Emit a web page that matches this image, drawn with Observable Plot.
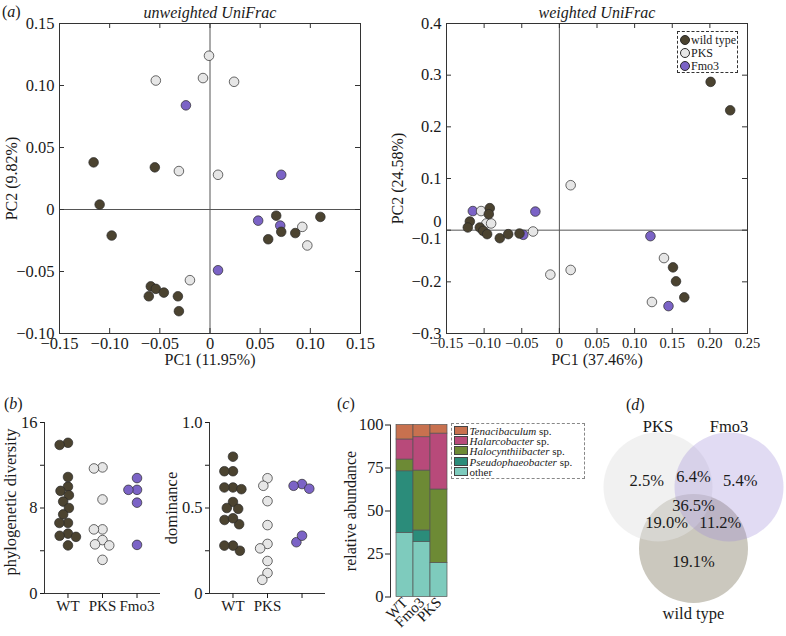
<!DOCTYPE html>
<html><head><meta charset="utf-8">
<script src="https://cdn.jsdelivr.net/npm/d3@7"></script>
<script src="https://cdn.jsdelivr.net/npm/@observablehq/plot@0.6"></script>
<style>
body{margin:0;background:#fff;}
#fig{position:relative;width:786px;height:636px;overflow:hidden;font-family:"Liberation Serif",serif;color:#1a1a1a;background:#fff;}
#fig > svg{position:absolute;}
.lab{position:absolute;font-size:16px;line-height:16px;white-space:nowrap;}
</style></head><body><div id="fig"></div><script>
// ---------- DATA ----------
const groups = ["wild type", "PKS", "Fmo3"];
const groupColors = ["#4b4330", "#e6e6e6", "#7b63c6"];

// (a) unweighted UniFrac PCoA
const uwWT_pc1 = [-0.116,-0.110,-0.098,-0.055,-0.059,-0.061,-0.054,-0.046,-0.032,-0.031,0.066,0.058,0.071,0.085,0.110];
const uwWT_pc2 = [0.038,0.004,-0.021,0.034,-0.062,-0.070,-0.064,-0.067,-0.070,-0.082,-0.005,-0.024,-0.018,-0.019,-0.006];
const uwPKS_pc1 = [-0.054,-0.001,-0.007,0.024,-0.031,0.008,-0.020,0.092,0.097];
const uwPKS_pc2 = [0.104,0.124,0.106,0.103,0.031,0.028,-0.057,-0.014,-0.029];
const uwFmo3_pc1 = [-0.024,0.071,0.048,0.070,0.008];
const uwFmo3_pc2 = [0.084,0.028,-0.009,-0.013,-0.049];
const uwXTicks = [-0.15,-0.10,-0.05,0,0.05,0.10,0.15];
const uwYTicks = [-0.10,-0.05,0,0.05,0.10,0.15];

// (a) weighted UniFrac PCoA
const wWT_pc1 = [0.201,0.227,0.151,0.155,0.166,-0.0925,-0.0938,-0.119,-0.1217,-0.1058,-0.1013,-0.096,-0.0792,-0.068,-0.053];
const wWT_pc2 = [0.287,0.232,-0.072,-0.099,-0.130,0.0426,0.031,0.0168,0.0052,0.0052,-0.0013,-0.0077,-0.0155,-0.0077,-0.0065];
const wPKS_pc1 = [-0.104,-0.097,-0.0907,-0.035,0.015,-0.012,0.015,0.139,0.123];
const wPKS_pc2 = [0.037,0.013,0.013,-0.0026,0.087,-0.086,-0.077,-0.054,-0.139];
const wFmo3_pc1 = [-0.115,-0.0319,-0.048,0.121,0.145];
const wFmo3_pc2 = [0.037,0.036,-0.009,-0.0116,-0.147];
const wXTicks = [-0.15,-0.10,-0.05,0,0.05,0.10,0.15,0.20,0.25];
const wYTicks = [0.4,0.3,0.2,0.1,0,-0.1,-0.2];
const wYTickLabels = ["0.4","0.3","0.2","0.1","0\n\u22120.1","\u22120.2","\u22120.3"];

// (b) alpha diversity
const bCategories = ["WT","PKS","Fmo3"];
const pdWT = [14.1,13.9,10.9,10.0,9.6,9.2,8.6,8.0,7.4,6.6,6.6,5.6,5.3,5.4,4.5];
const pdPKS = [11.8,11.7,8.8,6.0,6.0,5.0,4.5,4.6,3.15];
const pdFmo3 = [10.8,9.7,9.7,8.5,4.55];
const pdTicks = [0,4,8,12,16];
const pdTickLabels = ["0","","8","","16"];
const domWT = [0.80,0.715,0.715,0.62,0.61,0.62,0.535,0.50,0.495,0.43,0.405,0.44,0.25,0.28,0.28];
const domPKS = [0.674,0.63,0.54,0.40,0.29,0.264,0.19,0.12,0.08];
const domFmo3 = [0.64,0.613,0.63,0.30,0.338];
const domTicks = [0,0.25,0.5,0.75,1];
const domTickLabels = ["0","","0.5","","1.0"];
const domXLabels = ["WT","PKS",""];

// (c) relative abundance
const cSamples = ["WT","Fmo3","PKS"];
const taxa = ["Tenacibaculum","Halarcobacter","Halocynthiibacter","Pseudophaeobacter","other"];
const taxaColors = ["#c8714f","#b84a7a","#6d8a35","#2b8c7a","#7ecbbd"];
const tenacibaculum = [8.4, 7.1, 5.0];
const halarcobacter = [11.7, 19.4, 32.5];
const halocynthiibacter = [6.8, 34.8, 42.7];
const pseudophaeobacter = [35.8, 6.8, 0];
const otherTaxa = [37.3, 31.9, 19.8];
const cYTicks = [0,25,50,75,100];

// (d) Venn
const vennSets = ["PKS","Fmo3","wild type"];
const vennColors = ["#e4e4e4","#9a88d6","#a9a493"];
const vennOpacity = [0.5,0.3,0.6];
const vennRegions = ["PKS only","Fmo3 only","wild type only","PKS∩Fmo3","PKS∩wild type","Fmo3∩wild type","all"];
const vennPercents = ["2.5%","5.4%","19.1%","6.4%","19.0%","11.2%","36.5%"];

// ---------- HELPERS ----------
const fig = document.getElementById("fig");
const baseStyle = {fontFamily: '"Liberation Serif", serif', fontSize: "16px", background: "transparent", color: "#1a1a1a", overflow: "visible"};
function place(el, left, top) { el.style.position = "absolute"; el.style.left = left + "px"; el.style.top = top + "px"; fig.appendChild(el); }
function label(html, left, top) { const d = document.createElement("div"); d.className = "lab"; d.innerHTML = html; d.style.left = left + "px"; d.style.top = top + "px"; fig.appendChild(d); }
const fmt2 = d => d === 0 ? "0" : d3.format(".2f")(d);
const centred = {textAnchor: "middle", lineAnchor: "middle"};

// ---------- (a) ----------
function pcoa({left, width, mL, mR, xDomain, yDomain, xTicks, yTicks, yFmt, xTickFont, series, title, xLabel, yLabel, yLabelDx}) {
  const H = 372, mT = 23, mB = 39;
  const frameW = width - mL - mR, frameH = H - mT - mB;
  const pts = [];
  series.forEach(([g, xs, ys]) => xs.forEach((x, i) => pts.push({group: g, x, y: ys[i]})));
  const svg = Plot.plot({
    width, height: H, marginTop: mT, marginBottom: mB, marginLeft: mL, marginRight: mR,
    style: baseStyle,
    x: {domain: xDomain}, y: {domain: yDomain},
    color: {domain: groups, range: groupColors},
    marks: [
      Plot.ruleX([0], {stroke: "#555"}),
      Plot.ruleY([0], {stroke: "#555"}),
      Plot.frame({stroke: "#333"}),
      Plot.ruleX(xTicks, {stroke: "#333", insetTop: frameH - 5}),
      Plot.ruleX(xTicks, {stroke: "#333", insetBottom: frameH - 5}),
      Plot.ruleY(yTicks, {stroke: "#333", insetRight: frameW - 5}),
      Plot.ruleY(yTicks, {stroke: "#333", insetLeft: frameW - 5}),
      Plot.axisX(xTicks, {tickSize: 0, tickPadding: 4, tickFormat: fmt2, label: null, fontSize: xTickFont}),
      Plot.axisY(yTicks, {tickSize: 0, tickPadding: 5, tickFormat: yFmt, label: null, fontSize: 16.5}),
      Plot.dot(pts, {x: "x", y: "y", fill: "group", r: 4.8, stroke: "#2a2a2a", strokeWidth: 0.7}),
      Plot.text([xLabel], {frameAnchor: "bottom", dy: 26, ...centred}),
      Plot.text([yLabel], {frameAnchor: "left", rotate: -90, dx: yLabelDx, ...centred}),
      Plot.text([title], {frameAnchor: "top", dy: -11, fontStyle: "italic", ...centred})
    ]
  });
  place(svg, left, 0);
}
pcoa({left: 0, width: 393, mL: 59, mR: 33, xDomain: [-0.15, 0.15], yDomain: [-0.10, 0.15],
  xTicks: uwXTicks, yTicks: uwYTicks, yFmt: fmt2, xTickFont: 16.5,
  series: [["Fmo3", uwFmo3_pc1, uwFmo3_pc2], ["PKS", uwPKS_pc1, uwPKS_pc2], ["wild type", uwWT_pc1, uwWT_pc2]],
  title: "unweighted UniFrac", xLabel: "PC1 (11.95%)", yLabel: "PC2 (9.82%)", yLabelDx: -48});
const wMap = new Map(wYTicks.map((t, i) => [t, wYTickLabels[i]]));
pcoa({left: 380, width: 406, mL: 66, mR: 39, xDomain: [-0.15, 0.25], yDomain: [-0.2, 0.4],
  xTicks: wXTicks, yTicks: wYTicks, yFmt: d => wMap.get(d), xTickFont: 14.5,
  series: [["Fmo3", wFmo3_pc1, wFmo3_pc2], ["PKS", wPKS_pc1, wPKS_pc2], ["wild type", wWT_pc1, wWT_pc2]],
  title: "weighted UniFrac", xLabel: "PC1 (37.46%)", yLabel: "PC2 (24.58%)", yLabelDx: -49});

// legend (a)
{
  const box = document.createElement("div");
  box.style.cssText = "width:59px;height:40px;border:1px dashed #333;font-size:12px;";
  groups.forEach((g, i) => {
    const row = document.createElement("div");
    row.style.cssText = `position:absolute;left:2px;top:${2 + i * 12.8}px;height:12px;line-height:12px;white-space:nowrap;`;
    row.innerHTML = `<span style="display:inline-block;width:8px;height:8px;border-radius:50%;background:${groupColors[i]};border:0.7px solid #2a2a2a;vertical-align:-1px;margin-right:1px"></span>${g}`;
    box.appendChild(row);
  });
  place(box, 677, 31);
}

// ---------- (b) ----------
function swarm(values, yPx, d) {
  const order = d3.range(values.length).sort((a, b) => values[b] - values[a]);
  const placed = [], out = new Array(values.length);
  for (const i of order) {
    const y = yPx(values[i]);
    const cands = [0];
    for (const p of placed) {
      const dy = Math.abs(p.y - y);
      if (dy < d) { const dx = Math.sqrt(d * d - dy * dy); cands.push(p.x - dx, p.x + dx); }
    }
    cands.sort((a, b) => Math.abs(a) - Math.abs(b));
    for (const c of cands) {
      if (placed.every(p => (p.x - c) ** 2 + (p.y - y) ** 2 >= d * d - 1e-6)) { out[i] = c; placed.push({x: c, y}); break; }
    }
  }
  return out;
}
function swarmPlot({left, yDomain, yTicks, yTickLabels, xLabels, ylabel, ylabelDx, ylabelDy, values}) {
  const W = 170, H = 236, mT = 22, mB = 43, mL = 44, mR = 10;
  const frameH = H - mT - mB, frameW = W - mL - mR;
  const xDomain = [-0.68, 2.68];
  const step = frameW / (xDomain[1] - xDomain[0]);
  const yPx = d3.scaleLinear().domain(yDomain).range([frameH, 0]);
  const pts = [];
  values.forEach((vals, gi) => {
    const offs = swarm(vals, yPx, 8.6);
    vals.forEach((v, i) => pts.push({group: groups[gi], x: gi + offs[i] / step, y: v}));
  });
  const labMap = new Map(yTicks.map((t, i) => [t, yTickLabels[i]]));
  const svg = Plot.plot({
    width: W, height: H, marginTop: mT, marginBottom: mB, marginLeft: mL, marginRight: mR,
    style: baseStyle,
    x: {domain: xDomain}, y: {domain: yDomain},
    color: {domain: groups, range: groupColors},
    marks: [
      Plot.ruleX([xDomain[0]], {stroke: "#333"}),
      Plot.ruleY([yDomain[0]], {stroke: "#333"}),
      Plot.axisY(yTicks, {tickSize: 4, tickPadding: 3, tickFormat: d => labMap.get(d), label: null, fontSize: 16.5}),
      Plot.axisX([0, 1, 2], {tickSize: 5, tickPadding: 2, tickFormat: i => xLabels[i], label: null, fontSize: 15}),
      Plot.dot(pts, {x: "x", y: "y", fill: "group", r: 4.8, stroke: "#2a2a2a", strokeWidth: 0.7}),
      Plot.text([ylabel], {frameAnchor: "left", rotate: -90, dx: ylabelDx, dy: ylabelDy, fontSize: 16.5, ...centred})
    ]
  });
  place(svg, left, 400);
}
swarmPlot({left: 0, yDomain: [0, 16], yTicks: pdTicks, yTickLabels: pdTickLabels, xLabels: bCategories,
  ylabel: "phylogenetic diversity", ylabelDx: -34, ylabelDy: -6, values: [pdWT, pdPKS, pdFmo3]});
swarmPlot({left: 165, yDomain: [0, 1], yTicks: domTicks, yTickLabels: domTickLabels, xLabels: domXLabels,
  ylabel: "dominance", ylabelDx: -38, ylabelDy: 0, values: [domWT, domPKS, domFmo3]});

// ---------- (c) ----------
{
  const stackOrder = [otherTaxa, pseudophaeobacter, halocynthiibacter, halarcobacter, tenacibaculum];
  const stackNames = ["other", "Pseudophaeobacter", "Halocynthiibacter", "Halarcobacter", "Tenacibaculum"];
  const rows = [];
  cSamples.forEach((s, si) => stackOrder.forEach((arr, k) => { if (arr[si] > 0) rows.push({sample: s, taxon: stackNames[k], value: arr[si]}); }));
  const svg = Plot.plot({
    width: 130, height: 236, marginTop: 24.5, marginBottom: 39.5, marginLeft: 60, marginRight: 7,
    style: baseStyle,
    x: {domain: cSamples, paddingInner: 0, paddingOuter: 0.283},
    y: {domain: [0, 100]},
    color: {domain: taxa, range: taxaColors},
    marks: [
      Plot.barY(rows, {x: "sample", y: "value", fill: "taxon", stroke: "#555", strokeWidth: 0.7}),
      Plot.frame({anchor: "left", stroke: "#333"}),
      Plot.axisY(cYTicks, {tickSize: 5, tickPadding: 2, label: null, fontSize: 16.5}),
      Plot.axisX({tickRotate: -45, tickSize: 0, tickPadding: 3, label: null, fontSize: 15}),
      Plot.text(["relative abundance"], {frameAnchor: "left", rotate: -90, dx: -40, ...centred})
    ]
  });
  place(svg, 330, 400);
  const box = document.createElement("div");
  box.style.cssText = "width:132px;height:54px;border:1px dashed #888;font-size:11px;";
  taxa.forEach((t, i) => {
    const row = document.createElement("div");
    row.style.cssText = `position:absolute;left:2px;top:${2 + i * 10.2}px;height:10px;line-height:10px;white-space:nowrap;`;
    const name = t === "other" ? "other" : `<i>${t}</i> sp.`;
    row.innerHTML = `<span style="display:inline-block;width:12px;height:7px;background:${taxaColors[i]};border:0.7px solid #444;vertical-align:0px;margin-right:1.5px"></span>${name}`;
    box.appendChild(row);
  });
  place(box, 451, 423);
}

// ---------- (d) ----------
{
  const R = 54.5, D = 41; // layout: circle radius and centre distance (px)
  const setAngles = [150, 30, 270];
  const rad = a => a * Math.PI / 180;
  const centers = setAngles.map(a => ({x: D * Math.cos(rad(a)), y: -D * Math.sin(rad(a))}));
  const circles = vennSets.map((s, i) => ({set: s, ...centers[i]}));
  const regionPos = [
    ...setAngles.map(a => ({x: 54 * Math.cos(rad(a)), y: -54 * Math.sin(rad(a))})),
    ...[90, 210, 330].map(a => ({x: 31 * Math.cos(rad(a)), y: -31 * Math.sin(rad(a))})),
    {x: 0, y: -2}
  ];
  const regionLabels = vennRegions.map((r, i) => ({region: r, text: vennPercents[i], ...regionPos[i]}));
  const setLabels = circles.map(c => ({text: c.set, x: c.x, y: c.y > 0 ? c.y + R + 11 : c.y - R - 6}));
  const drawOrder = [2, 0, 1];
  const svg = Plot.plot({
    width: 190, height: 224, marginTop: 0, marginBottom: 0, marginLeft: 0, marginRight: 0,
    style: {...baseStyle, fontSize: "16.5px"},
    x: {domain: [-97, 93], axis: null}, y: {domain: [-95, 129], reverse: true, axis: null},
    marks: [
      ...drawOrder.map(i => Plot.dot([circles[i]], {x: "x", y: "y", r: R, fill: vennColors[i], fillOpacity: vennOpacity[i], stroke: "none"})),
      Plot.text(regionLabels, {x: "x", y: "y", text: "text"}),
      Plot.text(setLabels, {x: "x", y: "y", text: "text"})
    ]
  });
  place(svg, 596, 412);
}

// panel labels
label("(<i>a</i>)", 2, 4);
label("(<i>b</i>)", 4, 396);
label("(<i>c</i>)", 337, 396);
label("(<i>d</i>)", 626, 397);
</script></body></html>
